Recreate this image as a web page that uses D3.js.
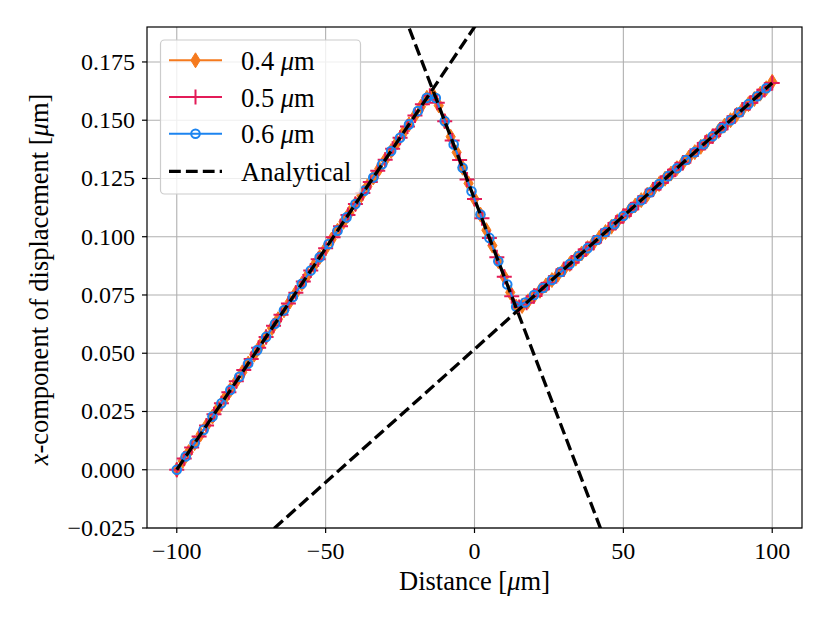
<!DOCTYPE html>
<html>
<head>
<meta charset="utf-8">
<script src="https://cdn.jsdelivr.net/npm/d3@7"></script>
<style>
  body { margin: 0; background: #fff; }
  svg text { font-family: "Liberation Serif", "DejaVu Serif", serif; fill: #000; }
</style>
</head>
<body>
<div class="chart"></div>
<script>
// mesh 0.4 um
const x04 = [-100,-98,-96,-94,-92,-90,-88,-86,-84,-82,-80,-78,-76,-74,-72,-70,-68,-66,-64,-62,-60,-58,-56,-54,-52,-50,-48,-46,-44,-42,-40,-38,-36,-34,-32,-30,-28,-26,-24,-22,-20,-18,-16,-14,-12,-10,-8,-6,-4,-2,0,2,4,6,8,10,12,14,16,18,20,22,24,26,28,30,32,34,36,38,40,42,44,46,48,50,52,54,56,58,60,62,64,66,68,70,72,74,76,78,80,82,84,86,88,90,92,94,96,98,100];
const y04 = [0,0.0038,0.0076,0.0114,0.0152,0.019,0.0228,0.0266,0.0304,0.0342,0.038,0.0418,0.0456,0.0494,0.0532,0.057,0.0608,0.0646,0.0684,0.0722,0.076,0.0798,0.0836,0.0874,0.0912,0.095,0.0988,0.1026,0.1064,0.1102,0.114,0.1178,0.1216,0.1254,0.1292,0.133,0.1368,0.1406,0.1444,0.1482,0.152,0.1558,0.1596,0.161,0.1563,0.1496,0.1429,0.1362,0.1296,0.1229,0.1162,0.1095,0.1028,0.0962,0.0895,0.0828,0.0761,0.0700,0.0703,0.0723,0.0746,0.0768,0.0791,0.0814,0.0837,0.0860,0.0883,0.0906,0.0928,0.0951,0.0974,0.0997,0.1020,0.1043,0.1066,0.1089,0.1111,0.1134,0.1157,0.1180,0.1203,0.1226,0.1249,0.1271,0.1294,0.1317,0.1340,0.1363,0.1386,0.1409,0.1431,0.1454,0.1477,0.1500,0.1523,0.1546,0.1569,0.1591,0.1614,0.1637,0.1665];

// mesh 0.5 um
const x05 = [-100,-97.5,-95,-92.5,-90,-87.5,-85,-82.5,-80,-77.5,-75,-72.5,-70,-67.5,-65,-62.5,-60,-57.5,-55,-52.5,-50,-47.5,-45,-42.5,-40,-37.5,-35,-32.5,-30,-27.5,-25,-22.5,-20,-17.5,-15,-12.5,-10,-7.5,-5,-2.5,0,2.5,5,7.5,10,12.5,15,17.5,20,22.5,25,27.5,30,32.5,35,37.5,40,42.5,45,47.5,50,52.5,55,57.5,60,62.5,65,67.5,70,72.5,75,77.5,80,82.5,85,87.5,90,92.5,95,97.5,100];
const y05 = [0,0.0048,0.0095,0.0143,0.0190,0.0238,0.0285,0.0333,0.0380,0.0428,0.0475,0.0523,0.0570,0.0618,0.0665,0.0713,0.0760,0.0808,0.0855,0.0903,0.0950,0.0998,0.1045,0.1093,0.1140,0.1188,0.1235,0.1283,0.1330,0.1378,0.1425,0.1473,0.1520,0.1568,0.1605,0.1575,0.1496,0.1413,0.1329,0.1246,0.1162,0.1079,0.0995,0.0912,0.0828,0.0745,0.0698,0.0717,0.0746,0.0774,0.0803,0.0831,0.0860,0.0888,0.0917,0.0946,0.0974,0.1003,0.1031,0.1060,0.1089,0.1117,0.1146,0.1174,0.1203,0.1231,0.1260,0.1289,0.1317,0.1346,0.1374,0.1403,0.1431,0.1460,0.1489,0.1517,0.1546,0.1574,0.1603,0.1631,0.1660];

// mesh 0.6 um
const x06 = [-100,-97,-94,-91,-88,-85,-82,-79,-76,-73,-70,-67,-64,-61,-58,-55,-52,-49,-46,-43,-40,-37,-34,-31,-28,-25,-22,-19,-16,-13,-10,-7,-4,-1,2,5,8,11,14,17,20,23,26,29,32,35,38,41,44,47,50,53,56,59,62,65,68,71,74,77,80,83,86,89,92,95,98];
const y06 = [0,0.0057,0.0114,0.0171,0.0228,0.0285,0.0342,0.0399,0.0456,0.0513,0.0570,0.0627,0.0684,0.0741,0.0798,0.0855,0.0912,0.0969,0.1026,0.1083,0.1140,0.1197,0.1254,0.1311,0.1368,0.1425,0.1482,0.1539,0.1596,0.1595,0.1496,0.1396,0.1296,0.1195,0.1095,0.0995,0.0895,0.0795,0.0700,0.0718,0.0750,0.0780,0.0814,0.0849,0.0883,0.0917,0.0951,0.0986,0.1020,0.1054,0.1089,0.1123,0.1157,0.1191,0.1226,0.1260,0.1294,0.1329,0.1363,0.1397,0.1431,0.1466,0.1500,0.1534,0.1569,0.1603,0.1637];

// analytical solution, three straight segments (clipped to the axes)
const anaX1 = [-100, 10],  anaY1 = [0, 0.209];
const anaX2 = [-30, 50],   anaY2 = [0.2164, -0.0508];
const anaX3 = [-80, 100],  anaY3 = [-0.0397, 0.166];

const xTicks = [-100, -50, 0, 50, 100];
const yTicks = [-0.025, 0, 0.025, 0.05, 0.075, 0.1, 0.125, 0.15, 0.175];
const seriesNames = ["0.4", "0.5", "0.6"];

const width = 830;
const height = 623;
const plotLeft = 147, plotRight = 802, plotTop = 27, plotBottom = 528;
const fontSize = 24;      // tick labels
const labelSize = 26.5;   // axis labels + legend

const colors = { "0.4": "#f57a1e", "0.5": "#e31b58", "0.6": "#1c84f0" };

const svg = d3.select(".chart")
    .append("svg")
    .attr("width", width)
    .attr("height", height);

const x = d3.scaleLinear().domain([-110, 110]).range([plotLeft, plotRight]);
const y = d3.scaleLinear().domain([-0.025, 0.19]).range([plotBottom, plotTop]);

svg.append("defs").append("clipPath")
    .attr("id", "plotclip")
    .append("rect")
    .attr("x", plotLeft).attr("y", plotTop)
    .attr("width", plotRight - plotLeft).attr("height", plotBottom - plotTop);

// grid
svg.append("g").selectAll("line")
    .data(xTicks).enter().append("line")
    .attr("x1", d => x(d)).attr("x2", d => x(d))
    .attr("y1", plotTop).attr("y2", plotBottom)
    .style("stroke", "#b0b0b0").style("stroke-width", 1.1);
svg.append("g").selectAll("line")
    .data(yTicks).enter().append("line")
    .attr("x1", plotLeft).attr("x2", plotRight)
    .attr("y1", d => y(d)).attr("y2", d => y(d))
    .style("stroke", "#b0b0b0").style("stroke-width", 1.1);

const plot = svg.append("g").attr("clip-path", "url(#plotclip)");

const line = d3.line().x(d => x(d[0])).y(d => y(d[1]));

const diamondPath = "M0,-7.5L4.6,0L0,7.5L-4.6,0Z";
function drawMarker(g, name) {
    const c = colors[name];
    if (name === "0.4") {
        g.append("path").attr("d", diamondPath)
            .style("fill", c).style("stroke", c).style("stroke-width", 1);
    } else if (name === "0.5") {
        g.append("path").attr("d", "M-7.5,0H7.5M0,-7.5V7.5")
            .style("fill", "none").style("stroke", c).style("stroke-width", 2);
    } else {
        g.append("circle").attr("r", 4.3)
            .style("fill", "none").style("stroke", c).style("stroke-width", 2);
    }
}

const seriesData = {
    "0.4": d3.zip(x04, y04),
    "0.5": d3.zip(x05, y05),
    "0.6": d3.zip(x06, y06)
};

seriesNames.forEach(function(name) {
    const pts = seriesData[name];
    plot.append("path")
        .datum(pts)
        .attr("d", line)
        .style("fill", "none")
        .style("stroke", colors[name])
        .style("stroke-width", 2);
    plot.append("g").selectAll("g")
        .data(pts).enter().append("g")
        .attr("transform", d => "translate(" + [x(d[0]), y(d[1])] + ")")
        .each(function() { drawMarker(d3.select(this), name); });
});

// analytical dashed lines on top
[[anaX1, anaY1], [anaX2, anaY2], [anaX3, anaY3]].forEach(function(seg) {
    plot.append("path")
        .datum(d3.zip(seg[0], seg[1]))
        .attr("d", line)
        .style("fill", "none")
        .style("stroke", "#000")
        .style("stroke-width", 3.3)
        .style("stroke-dasharray", "11.8,5.1");
});

// spines
svg.append("rect")
    .attr("x", plotLeft).attr("y", plotTop)
    .attr("width", plotRight - plotLeft).attr("height", plotBottom - plotTop)
    .style("fill", "none").style("stroke", "#000").style("stroke-width", 1.2);

// ticks
const fmtX = d => (d < 0 ? "\u2212" + Math.abs(d) : String(d));
const fmtY = d => (d < 0 ? "\u2212" + d3.format(".3f")(Math.abs(d)) : d3.format(".3f")(d));

svg.append("g").selectAll("line")
    .data(xTicks).enter().append("line")
    .attr("x1", d => x(d)).attr("x2", d => x(d))
    .attr("y1", plotBottom).attr("y2", plotBottom + 5)
    .style("stroke", "#000").style("stroke-width", 1.2);
svg.append("g").selectAll("text")
    .data(xTicks).enter().append("text")
    .attr("x", d => x(d)).attr("y", 559)
    .attr("text-anchor", "middle")
    .style("font-size", fontSize + "px")
    .text(fmtX);

svg.append("g").selectAll("line")
    .data(yTicks).enter().append("line")
    .attr("x1", plotLeft - 5).attr("x2", plotLeft)
    .attr("y1", d => y(d)).attr("y2", d => y(d))
    .style("stroke", "#000").style("stroke-width", 1.2);
svg.append("g").selectAll("text")
    .data(yTicks).enter().append("text")
    .attr("x", 135).attr("y", d => y(d) + 8)
    .attr("text-anchor", "end")
    .style("font-size", fontSize + "px")
    .text(fmtY);

// axis labels
const xl = svg.append("text")
    .attr("x", (plotLeft + plotRight) / 2).attr("y", 590)
    .attr("text-anchor", "middle")
    .style("font-size", labelSize + "px");
xl.append("tspan").text("Distance [");
xl.append("tspan").style("font-style", "italic").text("\u03bc");
xl.append("tspan").text("m]");

const yl = svg.append("text")
    .attr("transform", "translate(48," + ((plotTop + plotBottom) / 2 + 2) + ") rotate(-90)")
    .attr("text-anchor", "middle")
    .style("font-size", labelSize + "px");
yl.append("tspan").style("font-style", "italic").text("x");
yl.append("tspan").text("-component of displacement [");
yl.append("tspan").style("font-style", "italic").text("\u03bc");
yl.append("tspan").text("m]");

// legend
const legend = svg.append("g");
legend.append("rect")
    .attr("x", 160.5).attr("y", 40)
    .attr("width", 200).attr("height", 154)
    .attr("rx", 4)
    .style("fill", "#fff").style("fill-opacity", 0.8)
    .style("stroke", "#cccccc").style("stroke-width", 1.2);

const rowY = [60.3, 97, 133.7, 171.3];
seriesNames.forEach(function(name, i) {
    legend.append("line")
        .attr("x1", 169).attr("x2", 222)
        .attr("y1", rowY[i]).attr("y2", rowY[i])
        .style("stroke", colors[name]).style("stroke-width", 2);
    const m = legend.append("g").attr("transform", "translate(195.5," + rowY[i] + ")");
    drawMarker(m, name);
    const t = legend.append("text")
        .attr("x", 241).attr("y", rowY[i] + 9.5)
        .style("font-size", labelSize + "px");
    t.append("tspan").text(name + " ");
    t.append("tspan").style("font-style", "italic").text("\u03bc");
    t.append("tspan").text("m");
});
legend.append("line")
    .attr("x1", 169).attr("x2", 222)
    .attr("y1", rowY[3]).attr("y2", rowY[3])
    .style("stroke", "#000").style("stroke-width", 3.3)
    .style("stroke-dasharray", "11.8,5.1");
legend.append("text")
    .attr("x", 241).attr("y", rowY[3] + 9.5)
    .style("font-size", labelSize + "px")
    .text("Analytical");
</script>
</body>
</html>
